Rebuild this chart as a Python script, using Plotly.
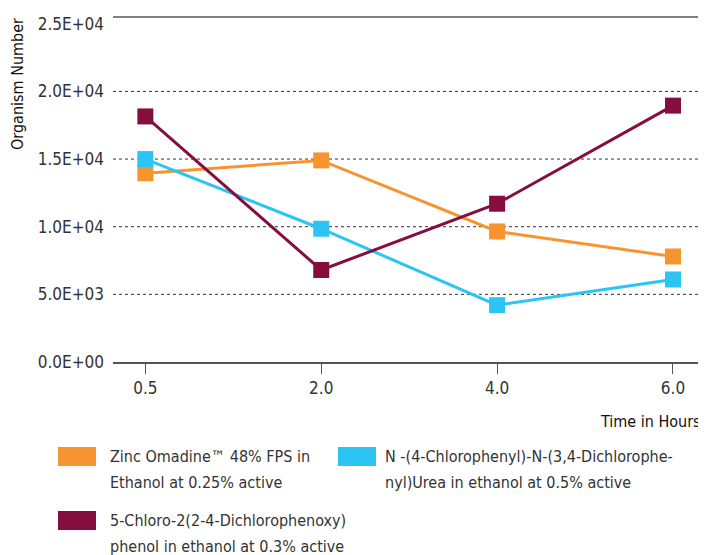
import plotly.graph_objects as go

# ---- data ----
time_labels = ["0.5", "2.0", "4.0", "6.0"]
zinc_omadine = [13950, 14900, 9650, 7800]
chlorophenyl_urea = [15000, 9850, 4200, 6100]
chloro_phenoxy_phenol = [18150, 6800, 11700, 18950]

series_names = [
    ["Zinc Omadine\u2122 48% FPS in", "Ethanol at 0.25% active"],
    ["N -(4-Chlorophenyl)-N-(3,4-Dichlorophe-", "nyl)Urea in ethanol at 0.5% active"],
    ["5-Chloro-2(2-4-Dichlorophenoxy)", "phenol in ethanol at 0.3% active"],
]
y_tick_vals = [0, 5000, 10000, 15000, 20000, 25000]
y_tick_text = ["0.0E+00", "5.0E+03", "1.0E+04", "1.5E+04", "2.0E+04", "2.5E+04"]

colors = ["#F7942F", "#2CC5F3", "#850E3F"]
series_values = [zinc_omadine, chlorophenyl_urea, chloro_phenoxy_phenol]

FONT = "DejaVu Sans Condensed, Liberation Sans Narrow, Roboto, sans-serif"
TXT = "#333333"

OFF = 8  # browser body margin
W, H = 706 - OFF, 555 - OFF
# plot area in page pixels (reference)
L, R, T, B = 113, 705, 17, 362


def px(x):
    return (x - L) / (R - L)


def py(y):
    return (B - y) / (B - T)


fig = go.Figure()
for vals, col in zip(series_values, colors):
    fig.add_trace(go.Scatter(
        x=time_labels, y=vals, mode="lines+markers",
        line=dict(color=col, width=3),
        marker=dict(symbol="square", size=16, color=col),
        showlegend=False, cliponaxis=False,
    ))

shapes = []
for v in y_tick_vals[1:-1]:
    shapes.append(dict(type="line", xref="paper", yref="y", x0=0, x1=1, y0=v, y1=v,
                       line=dict(color="#333333", width=1, dash="3px,3px"), layer="below"))
shapes.append(dict(type="line", xref="paper", yref="paper", x0=0, x1=1, y0=1, y1=1,
                   line=dict(color="#555555", width=1.5)))

annotations = []
legend_pos = [(58, 447, 108), (338, 447, 383), (58, 511, 108)]
for (sx, sy, tx), names, col in zip(legend_pos, series_names, colors):
    shapes.append(dict(type="rect", xref="paper", yref="paper",
                       x0=px(sx), x1=px(sx + 38), y0=py(sy), y1=py(sy + 19),
                       fillcolor=col, line=dict(width=0)))
    for i, line in enumerate(names):
        annotations.append(dict(
            text=line, xref="paper", yref="paper", x=px(tx), y=py(sy + 9 + 26 * i),
            xanchor="left", yanchor="middle", showarrow=False,
            font=dict(family=FONT, size=16, color=TXT)))

annotations.append(dict(text="Time in Hours", xref="paper", yref="paper",
                        x=px(703), y=py(421), xanchor="right", yanchor="middle",
                        showarrow=False,
                        font=dict(family=FONT, size=16, color="#111111")))
annotations.append(dict(text="Organism Number", xref="paper", yref="paper",
                        x=px(18), y=py(84), xanchor="center", yanchor="middle",
                        textangle=-90, showarrow=False,
                        font=dict(family=FONT, size=16, color="#111111")))

fig.update_layout(
    width=W, height=H,
    margin=dict(l=L - OFF, r=706 - R, t=T - OFF, b=555 - B, autoexpand=False),
    paper_bgcolor="white", plot_bgcolor="white",
    font=dict(family=FONT, size=17, color=TXT),
    shapes=shapes, annotations=annotations,
    xaxis=dict(type="category", range=[-0.184, 3.182], showgrid=False,
               showline=True, linecolor="#555555", linewidth=1.5,
               ticks="outside", ticklen=10, tickcolor="#555555", tickwidth=1,
               tickfont=dict(family=FONT, size=17, color=TXT), zeroline=False),
    yaxis=dict(range=[0, 25500], tickvals=y_tick_vals, ticktext=y_tick_text,
               showgrid=False, zeroline=False, showline=False, ticks="",
               ticklabelstandoff=8,
               tickfont=dict(family=FONT, size=17, color=TXT)),
)

fig.write_html("out.html")
